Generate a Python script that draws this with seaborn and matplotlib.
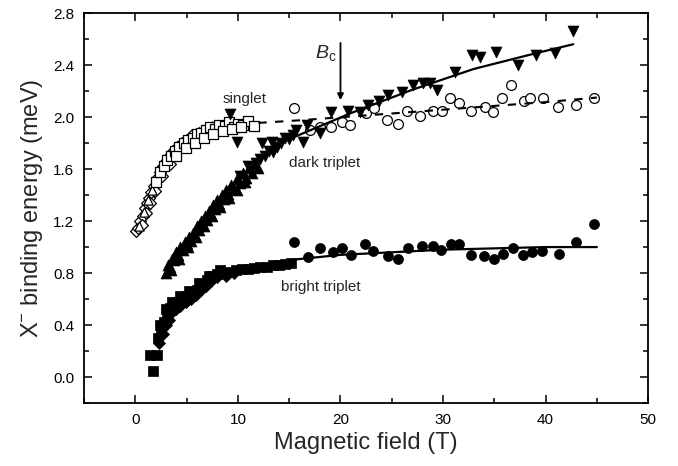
import numpy as np
import pandas as pd
import matplotlib
matplotlib.use('Agg')
import matplotlib.pyplot as plt
import seaborn as sns

# ---- data (field in T, energy in meV) ----
# singlet, low field (open squares / diamonds / triangles)
singlet_sq_B = [2.0, 2.4, 2.8, 3.1, 3.5, 3.9, 4.3, 4.7, 5.1, 5.6, 6.0, 6.4, 6.9, 7.3,
                7.8, 8.2, 8.7, 9.1, 9.6, 10.0, 10.5, 11.0, 11.6,
                4.0, 4.9, 5.8, 6.7, 7.6, 8.5, 9.4, 10.3]
singlet_sq_E = [1.50, 1.58, 1.62, 1.67, 1.70, 1.74, 1.77, 1.80, 1.82, 1.84, 1.87, 1.88, 1.90, 1.92,
                1.91, 1.94, 1.93, 1.96, 1.92, 1.95, 1.94, 1.97, 1.93,
                1.70, 1.76, 1.80, 1.84, 1.87, 1.89, 1.91, 1.92]
singlet_di_B = [0.1, 0.3, 0.5, 0.7, 0.9, 1.1, 1.3, 1.5, 1.8, 2.1, 2.4, 2.7, 3.0, 3.3,
                3.7, 4.1, 4.5, 5.0, 5.5, 6.2, 0.6, 1.0, 1.4, 1.9, 2.6, 3.4]
singlet_di_E = [1.12, 1.15, 1.20, 1.24, 1.30, 1.34, 1.38, 1.42, 1.47, 1.53, 1.58, 1.62, 1.66, 1.70,
                1.74, 1.77, 1.80, 1.82, 1.86, 1.88, 1.17, 1.26, 1.34, 1.43, 1.55, 1.64]
singlet_tr_B = [0.4, 0.8, 1.2, 1.6, 2.0, 2.5, 3.0, 3.5, 4.0, 4.8, 5.6, 6.5, 7.5, 8.8]
singlet_tr_E = [1.16, 1.27, 1.36, 1.44, 1.52, 1.60, 1.67, 1.72, 1.76, 1.81, 1.85, 1.89, 1.93, 1.96]
# singlet, high field (open circles)
singlet_ci_B = [15.5, 17.0, 18.0, 19.1, 20.1, 20.9, 22.5, 23.3, 24.5, 25.6, 26.5, 27.8, 29.0, 29.9,
                30.7, 31.6, 32.7, 34.1, 34.9, 35.7, 36.6, 37.9, 38.5, 39.7, 41.2, 43.0, 44.7]
singlet_ci_E = [2.07, 1.90, 1.92, 1.92, 1.96, 1.94, 2.03, 2.07, 1.98, 1.95, 2.05, 2.01, 2.05, 2.05,
                2.15, 2.11, 2.05, 2.08, 2.04, 2.15, 2.25, 2.12, 2.15, 2.15, 2.08, 2.09, 2.15]
singlet_fit_B = [12, 16, 22, 28, 34, 40, 45]
singlet_fit_E = [1.955, 1.975, 2.01, 2.045, 2.08, 2.115, 2.15]

# dark triplet (filled triangles)
dark_up_B = [3.0, 3.2, 3.4, 3.6, 3.8, 4.0, 4.2, 4.4, 4.6, 4.8, 5.0, 5.2, 5.4, 5.6, 5.8,
             6.0, 6.2, 6.4, 6.6, 6.8, 7.0, 7.2, 7.4, 7.6, 7.8, 8.0, 8.2, 8.4, 8.6, 8.8,
             9.0, 9.3, 9.6, 9.9, 10.2, 10.5, 10.8, 11.1, 11.4, 11.7, 12.0,
             3.5, 4.3, 5.1, 5.9, 6.7, 7.5, 8.3, 9.1, 9.9, 10.7]
dark_up_E = [0.80, 0.86, 0.85, 0.91, 0.90, 0.96, 0.94, 1.00, 0.98, 1.04, 1.02, 1.08, 1.05, 1.11, 1.09,
             1.16, 1.13, 1.20, 1.17, 1.24, 1.21, 1.28, 1.25, 1.32, 1.29, 1.36, 1.33, 1.40, 1.37, 1.44,
             1.41, 1.48, 1.45, 1.52, 1.49, 1.57, 1.53, 1.61, 1.57, 1.64, 1.61,
             0.82, 0.91, 1.00, 1.08, 1.16, 1.24, 1.31, 1.38, 1.44, 1.50]
dark_dn_B = [9.2, 9.9, 12.3, 13.3, 10.2, 11.0, 11.8, 12.6, 13.4, 14.2, 15.0, 15.7, 16.3, 16.7,
             18.0, 19.1, 20.7, 21.9, 22.7, 23.8, 24.6, 26.0, 27.1, 28.0, 28.7, 29.4, 31.2, 32.8,
             33.6, 35.2, 37.3, 39.1, 40.9, 42.7, 12.2, 13.0, 13.8, 14.6, 15.4]
dark_dn_E = [2.02, 1.81, 1.80, 1.81, 1.55, 1.62, 1.65, 1.70, 1.73, 1.80, 1.83, 1.90, 1.81, 1.94,
             1.88, 2.04, 2.05, 2.04, 2.09, 2.12, 2.17, 2.19, 2.25, 2.26, 2.26, 2.21, 2.35, 2.48,
             2.46, 2.50, 2.40, 2.48, 2.49, 2.66, 1.68, 1.74, 1.77, 1.84, 1.86]
dark_fit_B = [15, 18, 21, 24, 27, 30, 33, 36, 39, 42.7]
dark_fit_E = [1.83, 1.93, 2.03, 2.12, 2.21, 2.29, 2.37, 2.43, 2.49, 2.56]

# bright triplet (filled squares / diamonds low field, filled circles high field)
bright_sq_B = [1.4, 1.7, 2.1, 2.2, 2.5, 2.8, 3.1, 3.4, 3.8, 4.2, 4.6, 5.0, 5.5, 6.0, 6.5,
               7.0, 7.5, 8.0, 8.6, 9.2, 9.8, 10.4, 11.0, 11.6, 12.2, 12.8, 13.4, 14.0, 14.6, 15.2,
               2.4, 3.0, 3.6, 4.4, 5.2, 6.2, 7.2, 8.3]
bright_sq_E = [0.17, 0.05, 0.17, 0.30, 0.36, 0.42, 0.48, 0.53, 0.55, 0.58, 0.60, 0.62, 0.64, 0.67, 0.71,
               0.75, 0.78, 0.79, 0.80, 0.81, 0.82, 0.83, 0.83, 0.84, 0.85, 0.85, 0.86, 0.86, 0.87, 0.88,
               0.40, 0.52, 0.58, 0.62, 0.66, 0.72, 0.78, 0.82]
bright_di_B = [2.3, 2.7, 3.0, 3.3, 3.6, 4.0, 4.4, 4.9, 5.4, 5.9, 6.4, 6.9, 7.4, 8.0, 8.8, 9.6]
bright_di_E = [0.26, 0.33, 0.40, 0.44, 0.50, 0.52, 0.55, 0.58, 0.60, 0.63, 0.67, 0.70, 0.74, 0.77, 0.78, 0.80]
bright_ci_B = [15.5, 16.8, 18.0, 19.3, 20.1, 21.0, 22.4, 23.2, 24.6, 25.6, 26.6, 27.9, 29.0, 29.8,
               30.8, 31.6, 32.7, 34.0, 35.0, 35.8, 36.8, 37.8, 38.7, 39.6, 41.3, 43.0, 44.7]
bright_ci_E = [1.04, 0.92, 0.99, 0.96, 0.99, 0.94, 1.02, 0.97, 0.93, 0.91, 0.99, 1.01, 1.01, 0.98,
               1.02, 1.02, 0.94, 0.93, 0.91, 0.95, 0.99, 0.94, 0.96, 0.97, 0.95, 1.04, 1.18]
bright_fit_B = [9, 12, 15, 20, 25, 30, 35, 40, 45]
bright_fit_E = [0.82, 0.86, 0.90, 0.94, 0.96, 0.98, 0.99, 1.00, 1.00]

sns.set_theme(style='ticks')
plt.rcParams['font.family'] = ['Liberation Sans', 'DejaVu Sans']
plt.rcParams['mathtext.fontset'] = 'custom'
plt.rcParams['mathtext.rm'] = 'Liberation Sans'
plt.rcParams['mathtext.it'] = 'Liberation Sans:italic'

fig = plt.figure(figsize=(6.78, 4.66), dpi=100)
ax = fig.add_axes([0.124, 0.135, 0.832, 0.837])

# fits
sns.lineplot(x=singlet_fit_B, y=singlet_fit_E, ax=ax, color='black', linewidth=1.5,
             linestyle=(0, (4, 4)), sort=False)
sns.lineplot(x=dark_fit_B, y=dark_fit_E, ax=ax, color='black', linewidth=1.6, sort=False)
sns.lineplot(x=bright_fit_B, y=bright_fit_E, ax=ax, color='black', linewidth=1.6, sort=False)

# open markers (singlet)
open_kw = dict(color='black', facecolor='white', edgecolor='black', linewidth=0.9, ax=ax)
sns.scatterplot(x=singlet_di_B, y=singlet_di_E, marker='D', s=36, **open_kw)
sns.scatterplot(x=singlet_tr_B, y=singlet_tr_E, marker='^', s=44, **open_kw)
sns.scatterplot(x=singlet_sq_B, y=singlet_sq_E, marker='s', s=42, **open_kw)
sns.scatterplot(x=singlet_ci_B, y=singlet_ci_E, marker='o', s=50, **open_kw)

# filled markers (triplets)
fill_kw = dict(color='black', edgecolor='black', linewidth=0.5, ax=ax)
sns.scatterplot(x=dark_up_B, y=dark_up_E, marker='^', s=62, **fill_kw)
sns.scatterplot(x=dark_dn_B, y=dark_dn_E, marker='v', s=62, **fill_kw)
sns.scatterplot(x=bright_sq_B, y=bright_sq_E, marker='s', s=44, **fill_kw)
sns.scatterplot(x=bright_di_B, y=bright_di_E, marker='D', s=38, **fill_kw)
sns.scatterplot(x=bright_ci_B, y=bright_ci_E, marker='o', s=52, **fill_kw)

# labels in the plot
ax.text(8.5, 2.14, 'singlet', fontsize=11, va='center', ha='left')
ax.text(15.0, 1.65, 'dark triplet', fontsize=11, va='center', ha='left')
ax.text(14.2, 0.69, 'bright triplet', fontsize=11, va='center', ha='left')
ax.text(19.6, 2.49, r'$B_{\rm c}$', fontsize=14, va='center', ha='right')
ax.annotate('', xy=(20, 2.13), xytext=(20, 2.57),
            arrowprops=dict(arrowstyle='-|>', color='black', lw=1.3,
                            mutation_scale=9, shrinkA=0, shrinkB=0))

ax.set_xlim(-5, 50)
ax.set_ylim(-0.2, 2.8)
ax.set_xticks([0, 10, 20, 30, 40, 50])
ax.set_xticks([-5, 5, 15, 25, 35, 45], minor=True)
ax.set_yticks(np.arange(0, 2.81, 0.4))
ax.set_yticks(np.arange(-0.2, 2.81, 0.4), minor=True)
ax.set_yticklabels([f'{v:.1f}' for v in np.arange(0, 2.81, 0.4)])
ax.tick_params(which='both', direction='in', top=True, right=True, width=1.1,
               labelsize=11, colors='black')
ax.tick_params(which='major', length=6, pad=7)
ax.tick_params(which='minor', length=3.5)
for sp in ax.spines.values():
    sp.set_linewidth(1.3)
    sp.set_color('black')

ax.set_xlabel('Magnetic field (T)', fontsize=17, labelpad=4)
ax.set_ylabel(r'X$^{-}$ binding energy (meV)', fontsize=17, labelpad=6)

fig.savefig('out.png', dpi=100)
